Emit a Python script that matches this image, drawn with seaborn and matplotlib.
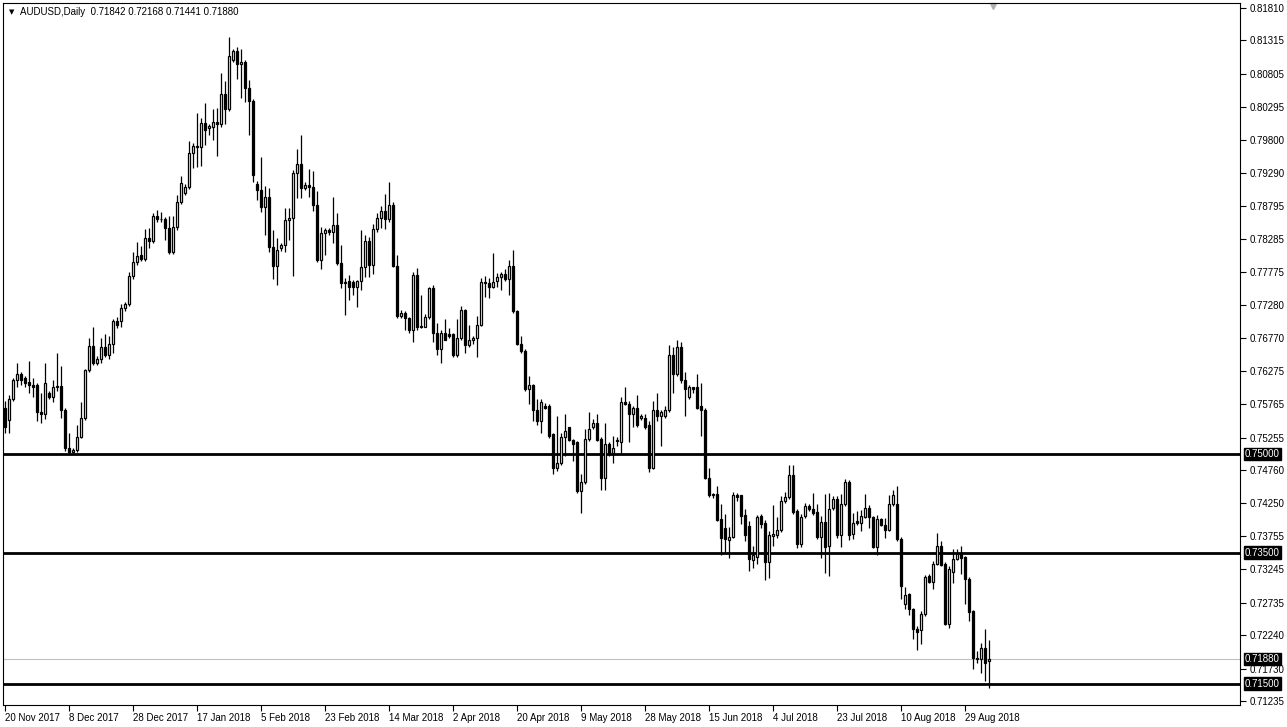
import numpy as np
import pandas as pd
import matplotlib
matplotlib.use("Agg")
import matplotlib.pyplot as plt
import matplotlib.transforms as mtransforms
import seaborn as sns

# AUDUSD daily candles, 20 Nov 2017 .. early Sep 2018
opens = [
    0.7571, 0.7553, 0.7584, 0.7613, 0.7623, 0.7616, 0.7610, 0.7606, 0.7605, 0.7565,
    0.7561, 0.7593, 0.7587, 0.7602, 0.7604, 0.7567, 0.7510, 0.7504, 0.7506, 0.7527,
    0.7556, 0.7628, 0.7665, 0.7639, 0.7645, 0.7663, 0.7651, 0.7669, 0.7704, 0.7703,
    0.7723, 0.7729, 0.7772, 0.7793, 0.7804, 0.7798, 0.7830, 0.7825, 0.7863, 0.7859,
    0.7859, 0.7845, 0.7808, 0.7847, 0.7885, 0.7899, 0.7908, 0.7960, 0.7971, 0.7969,
    0.8006, 0.7998, 0.8000, 0.8007, 0.8004, 0.8050, 0.8027, 0.8101, 0.8116, 0.8096,
    0.8099, 0.8059, 0.8039, 0.7912, 0.7903, 0.7877, 0.7893, 0.7816, 0.7787, 0.7815,
    0.7819, 0.7857, 0.7860, 0.7929, 0.7943, 0.7906, 0.7911, 0.7908, 0.7880, 0.7796,
    0.7838, 0.7842, 0.7839, 0.7850, 0.7792, 0.7761, 0.7764, 0.7763, 0.7755, 0.7764,
    0.7785, 0.7825, 0.7789, 0.7844, 0.7860, 0.7871, 0.7859, 0.7880, 0.7787, 0.7711,
    0.7715, 0.7708, 0.7689, 0.7773, 0.7694, 0.7694, 0.7709, 0.7753, 0.7685, 0.7660,
    0.7685, 0.7683, 0.7683, 0.7651, 0.7678, 0.7720, 0.7666, 0.7675, 0.7677, 0.7698,
    0.7763, 0.7761, 0.7756, 0.7764, 0.7770, 0.7775, 0.7767, 0.7787, 0.7718, 0.7669,
    0.7657, 0.7600, 0.7605, 0.7568, 0.7551, 0.7574, 0.7573, 0.7531, 0.7479, 0.7486,
    0.7527, 0.7541, 0.7522, 0.7518, 0.7444, 0.7457, 0.7524, 0.7541, 0.7547, 0.7524,
    0.7464, 0.7516, 0.7502, 0.7520, 0.7519, 0.7580, 0.7577, 0.7562, 0.7570, 0.7556,
    0.7556, 0.7544, 0.7479, 0.7568, 0.7559, 0.7559, 0.7567, 0.7651, 0.7623, 0.7663,
    0.7614, 0.7588, 0.7602, 0.7602, 0.7573, 0.7568, 0.7464, 0.7438, 0.7440, 0.7401,
    0.7388, 0.7369, 0.7374, 0.7438, 0.7438, 0.7408, 0.7391, 0.7339, 0.7343, 0.7406,
    0.7395, 0.7336, 0.7376, 0.7377, 0.7385, 0.7429, 0.7435, 0.7469, 0.7414, 0.7363,
    0.7406, 0.7421, 0.7417, 0.7412, 0.7374, 0.7397, 0.7360, 0.7418, 0.7431, 0.7377,
    0.7424, 0.7458, 0.7378, 0.7398, 0.7395, 0.7404, 0.7418, 0.7404, 0.7359, 0.7401,
    0.7392, 0.7385, 0.7424, 0.7424, 0.7371, 0.7271, 0.7287, 0.7264, 0.7233, 0.7232,
    0.7256, 0.7314, 0.7305, 0.7333, 0.7360, 0.7333, 0.7241, 0.7321, 0.7340, 0.7348,
    0.7343, 0.7310, 0.7261, 0.7189, 0.7187, 0.7204, 0.71842,
]
highs = [
    0.7582, 0.7590, 0.7617, 0.7639, 0.7626, 0.7620, 0.7643, 0.7617, 0.7608, 0.7594,
    0.7639, 0.7596, 0.7613, 0.7654, 0.7634, 0.7570, 0.7533, 0.7510, 0.7544, 0.7579,
    0.7630, 0.7678, 0.7694, 0.7650, 0.7677, 0.7683, 0.7681, 0.7707, 0.7709, 0.7730,
    0.7733, 0.7778, 0.7808, 0.7824, 0.7818, 0.7844, 0.7845, 0.7868, 0.7873, 0.7870,
    0.7862, 0.7863, 0.7863, 0.7896, 0.7925, 0.7912, 0.7978, 0.7975, 0.8021, 0.8013,
    0.8036, 0.8004, 0.8027, 0.8029, 0.8082, 0.8069, 0.8136, 0.8119, 0.8121, 0.8118,
    0.8102, 0.8071, 0.8042, 0.7917, 0.7954, 0.7909, 0.7906, 0.7842, 0.7830, 0.7823,
    0.7876, 0.7876, 0.7934, 0.7966, 0.7987, 0.7916, 0.7935, 0.7932, 0.7902, 0.7847,
    0.7845, 0.7845, 0.7893, 0.7868, 0.7819, 0.7769, 0.7773, 0.7766, 0.7766, 0.7842,
    0.7834, 0.7831, 0.7851, 0.7868, 0.7879, 0.7897, 0.7916, 0.7885, 0.7804, 0.7720,
    0.7718, 0.7710, 0.7778, 0.7784, 0.7743, 0.7714, 0.7756, 0.7758, 0.7700, 0.7689,
    0.7706, 0.7692, 0.7685, 0.7706, 0.7726, 0.7722, 0.7698, 0.7680, 0.7711, 0.7769,
    0.7772, 0.7769, 0.7807, 0.7776, 0.7778, 0.7782, 0.7796, 0.7811, 0.7720, 0.7681,
    0.7660, 0.7620, 0.7607, 0.7584, 0.7584, 0.7578, 0.7576, 0.7533, 0.7559, 0.7532,
    0.7561, 0.7542, 0.7524, 0.7520, 0.7470, 0.7539, 0.7564, 0.7554, 0.7562, 0.7526,
    0.7547, 0.7518, 0.7528, 0.7527, 0.7587, 0.7603, 0.7582, 0.7574, 0.7590, 0.7562,
    0.7562, 0.7551, 0.7582, 0.7593, 0.7568, 0.7574, 0.7666, 0.7663, 0.7675, 0.7671,
    0.7626, 0.7605, 0.7603, 0.7623, 0.7608, 0.7570, 0.7479, 0.7441, 0.7452, 0.7424,
    0.7409, 0.7389, 0.7443, 0.7441, 0.7438, 0.7417, 0.7398, 0.7360, 0.7408, 0.7409,
    0.7400, 0.7383, 0.7423, 0.7404, 0.7437, 0.7443, 0.7483, 0.7483, 0.7416, 0.7409,
    0.7426, 0.7424, 0.7441, 0.7424, 0.7406, 0.7440, 0.7441, 0.7437, 0.7437, 0.7440,
    0.7463, 0.7461, 0.7411, 0.7414, 0.7415, 0.7440, 0.7423, 0.7406, 0.7408, 0.7403,
    0.7403, 0.7438, 0.7446, 0.7452, 0.7373, 0.7297, 0.7288, 0.7266, 0.7238, 0.7261,
    0.7316, 0.7317, 0.7337, 0.7380, 0.7368, 0.7335, 0.7329, 0.7356, 0.7356, 0.7360,
    0.7345, 0.7312, 0.7263, 0.7200, 0.7212, 0.7233, 0.72168,
]
lows = [
    0.7533, 0.7532, 0.7581, 0.7602, 0.7605, 0.7603, 0.7593, 0.7587, 0.7551, 0.7548,
    0.7554, 0.7584, 0.7579, 0.7597, 0.7556, 0.7505, 0.7501, 0.7502, 0.7503, 0.7525,
    0.7553, 0.7626, 0.7636, 0.7636, 0.7640, 0.7648, 0.7645, 0.7655, 0.7693, 0.7694,
    0.7719, 0.7726, 0.7768, 0.7789, 0.7795, 0.7795, 0.7815, 0.7822, 0.7855, 0.7855,
    0.7827, 0.7805, 0.7805, 0.7842, 0.7882, 0.7896, 0.7905, 0.7937, 0.7939, 0.7940,
    0.7972, 0.7987, 0.7980, 0.7955, 0.8000, 0.8004, 0.8024, 0.8098, 0.8073, 0.8043,
    0.8038, 0.7987, 0.7916, 0.7888, 0.7870, 0.7834, 0.7808, 0.7767, 0.7758, 0.7810,
    0.7808, 0.7827, 0.7772, 0.7891, 0.7891, 0.7903, 0.7893, 0.7871, 0.7794, 0.7782,
    0.7804, 0.7835, 0.7822, 0.7789, 0.7753, 0.7712, 0.7735, 0.7743, 0.7724, 0.7750,
    0.7770, 0.7770, 0.7775, 0.7839, 0.7845, 0.7844, 0.7854, 0.7785, 0.7708, 0.7708,
    0.7689, 0.7685, 0.7671, 0.7690, 0.7692, 0.7694, 0.7706, 0.7672, 0.7651, 0.7640,
    0.7674, 0.7677, 0.7648, 0.7649, 0.7675, 0.7655, 0.7663, 0.7669, 0.7649, 0.7695,
    0.7740, 0.7738, 0.7753, 0.7756, 0.7750, 0.7765, 0.7743, 0.7715, 0.7666, 0.7654,
    0.7597, 0.7577, 0.7551, 0.7544, 0.7532, 0.7569, 0.7525, 0.7470, 0.7475, 0.7484,
    0.7498, 0.7521, 0.7490, 0.7441, 0.7411, 0.7455, 0.7521, 0.7539, 0.7520, 0.7446,
    0.7446, 0.7498, 0.7487, 0.7513, 0.7501, 0.7575, 0.7519, 0.7541, 0.7541, 0.7552,
    0.7539, 0.7473, 0.7477, 0.7551, 0.7513, 0.7556, 0.7565, 0.7594, 0.7620, 0.7608,
    0.7559, 0.7585, 0.7593, 0.7569, 0.7528, 0.7463, 0.7435, 0.7434, 0.7398, 0.7346,
    0.7351, 0.7342, 0.7372, 0.7429, 0.7394, 0.7368, 0.7322, 0.7327, 0.7333, 0.7388,
    0.7308, 0.7311, 0.7360, 0.7372, 0.7382, 0.7426, 0.7432, 0.7409, 0.7357, 0.7359,
    0.7403, 0.7413, 0.7408, 0.7371, 0.7342, 0.7319, 0.7314, 0.7415, 0.7372, 0.7359,
    0.7421, 0.7369, 0.7371, 0.7392, 0.7383, 0.7402, 0.7388, 0.7357, 0.7346, 0.7390,
    0.7372, 0.7383, 0.7421, 0.7368, 0.7279, 0.7264, 0.7255, 0.7218, 0.7201, 0.7210,
    0.7253, 0.7303, 0.7294, 0.7331, 0.7329, 0.7239, 0.7235, 0.7304, 0.7338, 0.7317,
    0.7271, 0.7245, 0.7173, 0.7181, 0.7166, 0.7154, 0.71441,
]
closes = [
    0.7541, 0.7584, 0.7613, 0.7623, 0.7614, 0.7608, 0.7606, 0.7603, 0.7564, 0.7561,
    0.7608, 0.7587, 0.7602, 0.7604, 0.7567, 0.7510, 0.7504, 0.7506, 0.7527, 0.7556,
    0.7628, 0.7665, 0.7639, 0.7645, 0.7663, 0.7651, 0.7669, 0.7704, 0.7697, 0.7723,
    0.7729, 0.7772, 0.7793, 0.7802, 0.7798, 0.7830, 0.7825, 0.7863, 0.7859, 0.7859,
    0.7845, 0.7808, 0.7847, 0.7885, 0.7914, 0.7908, 0.7960, 0.7971, 0.7969, 0.8006,
    0.7995, 0.8001, 0.8007, 0.8004, 0.8050, 0.8027, 0.8108, 0.8116, 0.8096, 0.8099,
    0.8059, 0.8039, 0.7926, 0.7903, 0.7877, 0.7893, 0.7816, 0.7787, 0.7812, 0.7819,
    0.7857, 0.7860, 0.7929, 0.7943, 0.7906, 0.7911, 0.7908, 0.7880, 0.7796, 0.7838,
    0.7842, 0.7839, 0.7850, 0.7792, 0.7761, 0.7763, 0.7755, 0.7755, 0.7764, 0.7785,
    0.7825, 0.7789, 0.7844, 0.7860, 0.7871, 0.7859, 0.7880, 0.7787, 0.7711, 0.7715,
    0.7708, 0.7689, 0.7773, 0.7694, 0.7696, 0.7709, 0.7753, 0.7685, 0.7660, 0.7685,
    0.7675, 0.7680, 0.7651, 0.7678, 0.7720, 0.7666, 0.7675, 0.7677, 0.7698, 0.7763,
    0.7761, 0.7756, 0.7763, 0.7770, 0.7775, 0.7767, 0.7787, 0.7718, 0.7669, 0.7657,
    0.7600, 0.7605, 0.7568, 0.7551, 0.7579, 0.7571, 0.7528, 0.7479, 0.7486, 0.7527,
    0.7535, 0.7522, 0.7516, 0.7444, 0.7457, 0.7524, 0.7539, 0.7547, 0.7522, 0.7464,
    0.7516, 0.7502, 0.7509, 0.7522, 0.7580, 0.7577, 0.7562, 0.7570, 0.7544, 0.7558,
    0.7542, 0.7479, 0.7568, 0.7559, 0.7565, 0.7567, 0.7651, 0.7623, 0.7663, 0.7613,
    0.7599, 0.7602, 0.7600, 0.7571, 0.7567, 0.7464, 0.7438, 0.7440, 0.7400, 0.7372,
    0.7371, 0.7374, 0.7438, 0.7435, 0.7406, 0.7377, 0.7340, 0.7346, 0.7404, 0.7394,
    0.7336, 0.7377, 0.7379, 0.7385, 0.7428, 0.7435, 0.7469, 0.7412, 0.7363, 0.7404,
    0.7421, 0.7417, 0.7411, 0.7374, 0.7397, 0.7359, 0.7417, 0.7431, 0.7377, 0.7424,
    0.7457, 0.7377, 0.7395, 0.7395, 0.7406, 0.7418, 0.7404, 0.7359, 0.7401, 0.7392,
    0.7385, 0.7424, 0.7438, 0.7371, 0.7299, 0.7285, 0.7264, 0.7233, 0.7229, 0.7256,
    0.7313, 0.7305, 0.7333, 0.7360, 0.7331, 0.7241, 0.7325, 0.7340, 0.7348, 0.7342,
    0.7310, 0.7259, 0.7189, 0.7187, 0.7204, 0.7181, 0.71880,
]

date_labels = ['20 Nov 2017', '8 Dec 2017', '28 Dec 2017', '17 Jan 2018', '5 Feb 2018',
               '23 Feb 2018', '14 Mar 2018', '2 Apr 2018', '20 Apr 2018', '9 May 2018',
               '28 May 2018', '15 Jun 2018', '4 Jul 2018', '23 Jul 2018', '10 Aug 2018',
               '29 Aug 2018']
price_ticks = [0.81810, 0.81315, 0.80805, 0.80295, 0.79800, 0.79290, 0.78795, 0.78285,
               0.77775, 0.77280, 0.76770, 0.76275, 0.75765, 0.75255, 0.74760, 0.74250,
               0.73755, 0.73245, 0.72735, 0.72240, 0.71730, 0.71235]
levels = [0.75000, 0.73500, 0.71500]
last_price = 0.71880

sns.set_theme(style="white")
plt.rcParams['font.family'] = ['Liberation Sans', 'DejaVu Sans']

df = pd.DataFrame({'open': opens, 'high': highs, 'low': lows, 'close': closes})
df['bar'] = np.arange(len(df))
df['up'] = df['close'] >= df['open']
df['bottom'] = df[['open', 'close']].min(axis=1)
df['height'] = (df['close'] - df['open']).abs()

W, H = 1287, 727
fig = plt.figure(figsize=(W / 100, H / 100), dpi=100)
fig.patch.set_facecolor('white')
ax = fig.add_axes([3 / W, 22 / H, 1237 / W, 702 / H])
ax.set_facecolor('white')

# horizontal levels and current price line
for lv in levels:
    ax.axhline(lv, color='black', lw=2.0, zorder=1)
ax.axhline(last_price, color='#c0c0c0', lw=0.8, zorder=1)

# candles
ax.vlines(df['bar'], df['low'], df['high'], color='black', lw=0.9, zorder=2)
ax.bar(df['bar'], df['height'], bottom=df['bottom'], width=0.72,
       color=np.where(df['up'], 'white', 'black'), edgecolor='black', lw=0.9, zorder=3)

ax.set_xlim(-0.5, -0.5 + 1237 / 4)
ax.set_ylim(0.71174, 0.81886)

for s in ax.spines.values():
    s.set_color('black')
    s.set_linewidth(0.8)

ax.yaxis.tick_right()
ax.set_yticks(price_ticks)
ax.set_yticklabels([f'{v:.5f}' for v in price_ticks])
ax.set_xticks(list(range(0, len(df), 16)))
ax.set_xticklabels(date_labels, ha='left')
ax.tick_params(axis='y', direction='out', length=4, width=0.8, color='black',
               labelsize=7, pad=3, labelcolor='black', left=False, right=True)
ax.tick_params(axis='x', direction='out', length=4, width=0.8, color='black',
               labelsize=7, pad=2, labelcolor='black', bottom=True)
ax.grid(False)

# highlighted price labels on the right scale
tr = mtransforms.blended_transform_factory(ax.transAxes, ax.transData)
for v in levels + [last_price]:
    ax.text(1.0 + 5 / 1237, v, f'{v:.5f}', transform=tr, color='white', fontsize=7,
            va='center', ha='left', clip_on=False, zorder=10,
            bbox=dict(boxstyle='square,pad=0.12', fc='black', ec='black'))

# header
ax.text(6 / 1237, 1 - 9 / 702, '\u25bc', transform=ax.transAxes, fontsize=5,
        va='center', ha='left', color='black', family='DejaVu Sans')
ax.text(17 / 1237, 1 - 9 / 702, 'AUDUSD,Daily  0.71842 0.72168 0.71441 0.71880',
        transform=ax.transAxes, fontsize=7, va='center', ha='left', color='black')

# chart shift marker
ax.plot([990 / 1237], [1 - 3 / 702], marker='v', ms=5, color='#b0b0b0',
        transform=ax.transAxes, clip_on=False)

fig.savefig('out.png', dpi=100, facecolor='white')
